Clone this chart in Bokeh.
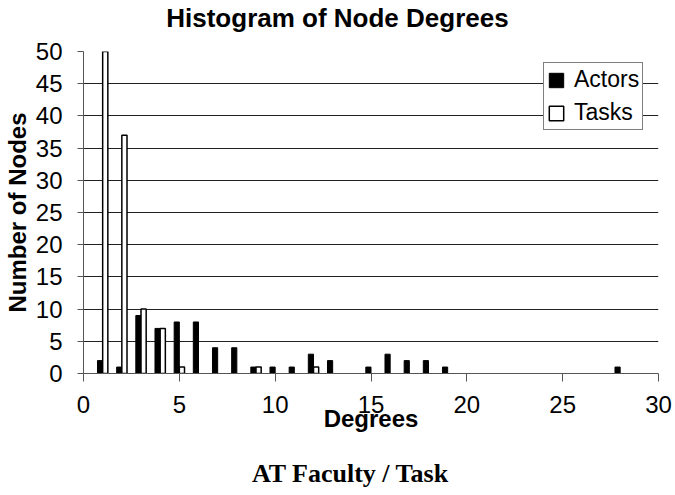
from bokeh.plotting import figure
from bokeh.models import Legend, LegendItem, Range1d, FixedTicker, ColumnDataSource, Label
from bokeh.embed import file_html
from bokeh.resources import INLINE

degrees = list(range(1, 29))
actors = [2, 1, 9, 7, 8, 8, 4, 4, 1, 1, 1, 3, 2, 0, 1, 3, 2, 2, 1, 0, 0, 0, 0, 0, 0, 0, 0, 1]
tasks = [60, 37, 10, 7, 1, 0, 0, 0, 1, 0, 0, 1, 0, 0, 0, 0, 0, 0, 0, 0, 0, 0, 0, 0, 0, 0, 0, 0]
x_ticks = [0, 5, 10, 15, 20, 25, 30]
y_ticks = [0, 5, 10, 15, 20, 25, 30, 35, 40, 45, 50]

BAR_W = 0.27
# only non-empty bins are drawn
src_a = ColumnDataSource(dict(
    x=[d - BAR_W / 2 for d, v in zip(degrees, actors) if v > 0],
    top=[v for v in actors if v > 0]))
src_t = ColumnDataSource(dict(
    x=[d + BAR_W / 2 for d, v in zip(degrees, tasks) if v > 0],
    top=[v for v in tasks if v > 0]))

FONT = "Liberation Sans"

p = figure(width=675, height=495, output_backend="svg", toolbar_location=None,
           x_range=Range1d(0, 30), y_range=Range1d(0, 50),
           min_border_left=83, min_border_right=17, min_border_top=51, min_border_bottom=122)
p.outline_line_color = None

for ax in (p.xaxis[0], p.yaxis[0]):
    ax.axis_line_color = "#555555"
    ax.axis_line_width = 1
    ax.major_tick_line_color = "#555555"
    ax.major_tick_in = 0
    ax.minor_tick_line_color = None
    ax.major_label_text_font = FONT
    ax.major_label_text_font_size = "24px"
    ax.major_label_text_color = "black"
    ax.axis_label_text_font = FONT
    ax.axis_label_text_font_size = "24px"
    ax.axis_label_text_font_style = "bold"
    ax.axis_label_text_color = "black"
p.xaxis.ticker = FixedTicker(ticks=x_ticks)
p.yaxis.ticker = FixedTicker(ticks=y_ticks)
p.xaxis.major_tick_out = 8
p.yaxis.major_tick_out = 6
p.xaxis.major_label_standoff = 14
p.yaxis.major_label_standoff = 15
p.xaxis.axis_label = "Degrees"
p.yaxis.axis_label = "Number of Nodes"
p.xaxis.axis_label_standoff = -11
p.yaxis.axis_label_standoff = 2

p.xgrid.grid_line_color = None
p.ygrid.grid_line_color = "#222222"
p.ygrid.grid_line_width = 1
p.ygrid.ticker = FixedTicker(ticks=y_ticks)

ra = p.vbar(x="x", top="top", width=BAR_W, source=src_a, fill_color="black",
            line_color="black", line_width=1)
rt = p.vbar(x="x", top="top", width=BAR_W, source=src_t, fill_color="white",
            line_color="black", line_width=1.5)

legend = Legend(items=[LegendItem(label="Actors", renderers=[ra]),
                       LegendItem(label="Tasks", renderers=[rt])],
                location=(460, 243), margin=0, padding=3, spacing=6,
                glyph_width=18, glyph_height=18, label_height=26,
                label_text_font=FONT, label_text_font_size="23px",
                label_text_color="black",
                label_standoff=9, border_line_color="black", border_line_width=1,
                background_fill_alpha=1)
p.add_layout(legend)

title = Label(x=13.25, y=55.2, text="Histogram of Node Degrees",
              text_font=FONT, text_font_size="26px", text_font_style="bold",
              text_color="black", text_align="center", text_baseline="middle")
p.add_layout(title, "above")

sub = Label(x=13.93, y=-15.6, text="AT Faculty / Task",
            text_font="Liberation Serif", text_font_size="26px", text_font_style="bold",
            text_color="black", text_align="center", text_baseline="middle")
p.add_layout(sub, "below")

open("out.html", "w").write(file_html(p, INLINE))
